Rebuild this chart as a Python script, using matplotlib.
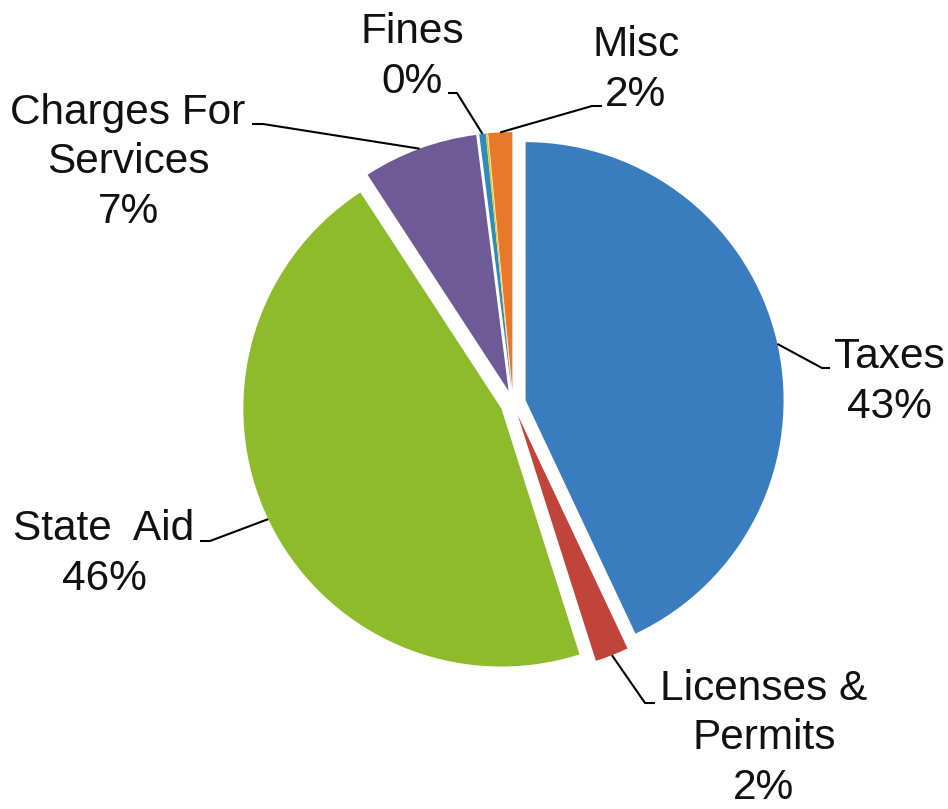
import numpy as np
import matplotlib.pyplot as plt

# revenue shares, clockwise from 12 o'clock
categories = ['Taxes', 'Licenses &\nPermits', 'State  Aid', 'Charges For\nServices', 'Fines', '', 'Misc']
shares = [43.0, 2.1, 45.7, 7.2, 0.4, 0.1, 1.5]
colors = ['#3a7dbf', '#c0443a', '#8dbb2c', '#6e5a97', '#2e8bc0', '#f2c200', '#e8792a']

W, H = 948, 809
CX, CY, R = 513, 403, 258  # pie centre and radius in pixels


def px(x, y):
    return (x - CX) / R, (CY - y) / R


fig = plt.figure(figsize=(W / 100, H / 100), dpi=100)
ax = fig.add_axes([0, 0, 1, 1])

wedges, _ = ax.pie(shares, colors=colors, startangle=90, counterclock=False,
                   explode=[0.05] * len(shares), radius=1,
                   wedgeprops=dict(linewidth=0))
ax.set_xlim(px(0, 0)[0], px(W, 0)[0])
ax.set_ylim(px(0, H)[1], px(0, 0)[1])
ax.set_aspect('equal')
ax.axis('off')

# label layout: (text x, last baseline y, elbow x, elbow y, end x) in pixels
layout = {
    0: (889, 418, 822, 368, 830),
    1: (764, 799, 645, 703, 655),
    2: (104, 590, 210, 541, 200),
    3: (128, 223, 263, 124, 252),
    4: (412, 93, 457, 93, 448),
    6: (636, 106, 592, 106, 602),
}

for i, (tx, ty, ex, ey, endx) in layout.items():
    w = wedges[i]
    mid = np.deg2rad((w.theta1 + w.theta2) / 2)
    cx, cy = w.center
    ax_, ay_ = cx + w.r * np.cos(mid), cy + w.r * np.sin(mid)
    e = px(ex, ey)
    f = px(endx, ey)
    ax.plot([ax_, e[0], f[0]], [ay_, e[1], f[1]], color='black', lw=1.5,
            solid_capstyle='butt')
    label = f"{categories[i]}\n{shares[i]:.0f}%"
    t = px(tx, ty)
    ax.text(t[0], t[1], label, ha='center', va='baseline', multialignment='center',
            fontsize=30.5, family='Liberation Sans', linespacing=1.31, color='#111111')

fig.savefig('out.png', dpi=100)
